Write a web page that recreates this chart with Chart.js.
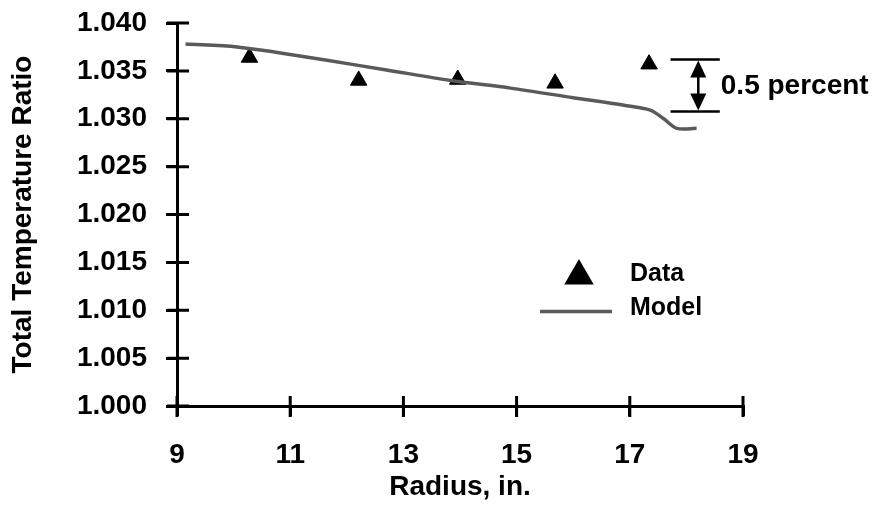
<!DOCTYPE html>
<html>
<head>
<meta charset="utf-8">
<script src="https://cdn.jsdelivr.net/npm/chart.js@4.4.1/dist/chart.umd.min.js"></script>
<style>
  html, body { margin: 0; padding: 0; background: #fff; }
</style>
</head>
<body>
<canvas id="myChart" width="877" height="513"></canvas>
<script>
// measured data (triangles)
const dataRadius = [10.28, 12.21, 13.96, 15.68, 17.34];
const dataRatio = [1.0364, 1.0340, 1.0341, 1.0337, 1.0357];

// model curve
const modelRadius = [9.15, 10.06, 10.8, 11.65, 12.7, 13.83, 14.89, 16.0, 16.9, 17.36, 17.6, 17.83, 18.18];
const modelRatio = [1.0378, 1.0375, 1.0369, 1.0361, 1.0351, 1.0340, 1.0332, 1.0322, 1.0314, 1.0309, 1.0300, 1.0290, 1.0290];

const xTicks = [9, 11, 13, 15, 17, 19];
const yTicks = [1.000, 1.005, 1.010, 1.015, 1.020, 1.025, 1.030, 1.035, 1.040];

// "0.5 percent" bracket
const bracketTop = 1.0362;
const bracketBottom = 1.03075;
const bracketX = [17.72, 18.59];
const bracketArrowX = 18.21;
const bracketLabel = '0.5 percent';

const FONT = '"Liberation Sans", Arial, sans-serif';

function toPoints(xs, ys) {
  return xs.map((x, i) => ({ x: x, y: ys[i] }));
}

// ticks cross the axis line on both sides
const crossTicks = {
  id: 'crossTicks',
  afterDraw(chart) {
    const ctx = chart.ctx;
    const x = chart.scales.x, y = chart.scales.y;
    const area = chart.chartArea;
    ctx.save();
    ctx.strokeStyle = '#000';
    ctx.lineWidth = 3;
    ctx.beginPath();
    yTicks.forEach(v => {
      const py = y.getPixelForValue(v);
      ctx.moveTo(area.left - 10, py);
      ctx.lineTo(area.left + 12, py);
    });
    xTicks.forEach(v => {
      const px = x.getPixelForValue(v);
      ctx.moveTo(px, area.bottom + 11);
      ctx.lineTo(px, area.bottom - 10);
    });
    ctx.stroke();
    ctx.restore();
  }
};

function arrowHead(ctx, x, y, dir) {
  ctx.beginPath();
  ctx.moveTo(x, y);
  ctx.lineTo(x - 8, y + dir * 17);
  ctx.lineTo(x + 8, y + dir * 17);
  ctx.closePath();
  ctx.fill();
}

const notes = {
  id: 'notes',
  afterDatasetsDraw(chart) {
    const ctx = chart.ctx;
    const x = chart.scales.x, y = chart.scales.y;
    ctx.save();
    ctx.strokeStyle = '#000';
    ctx.fillStyle = '#000';
    ctx.lineWidth = 2.5;

    // bracket
    const x0 = x.getPixelForValue(bracketX[0]);
    const x1 = x.getPixelForValue(bracketX[1]);
    const yt = y.getPixelForValue(bracketTop);
    const yb = y.getPixelForValue(bracketBottom);
    const xa = x.getPixelForValue(bracketArrowX);
    ctx.beginPath();
    ctx.moveTo(x0, yt); ctx.lineTo(x1, yt);
    ctx.moveTo(x0, yb); ctx.lineTo(x1, yb);
    ctx.moveTo(xa, yt + 10); ctx.lineTo(xa, yb - 10);
    ctx.stroke();
    arrowHead(ctx, xa, yt + 1, 1);
    arrowHead(ctx, xa, yb - 1, -1);

    ctx.font = 'bold 28px ' + FONT;
    ctx.textBaseline = 'middle';
    ctx.textAlign = 'left';
    ctx.fillText(bracketLabel, x1 + 1, (yt + yb) / 2 + 1);

    // legend
    const area = chart.chartArea;
    const lx = area.left + 402, ly = 276;
    Chart.helpers.drawPoint(ctx, { pointStyle: 'triangle', radius: 14.5, borderWidth: 1 }, lx, ly);
    ctx.fill();
    ctx.font = 'bold 25px ' + FONT;
    ctx.fillText('Data', area.left + 453, 274);
    ctx.strokeStyle = '#5a5a5a';
    ctx.lineWidth = 3.5;
    ctx.beginPath();
    ctx.moveTo(area.left + 363, 311.5);
    ctx.lineTo(area.left + 435, 311.5);
    ctx.stroke();
    ctx.fillText('Model', area.left + 453, 308);
    ctx.restore();
  }
};

const ctx = document.getElementById('myChart').getContext('2d');

new Chart(ctx, {
  type: 'scatter',
  data: {
    datasets: [
      {
        label: 'Model',
        data: toPoints(modelRadius, modelRatio),
        showLine: true,
        borderColor: '#5a5a5a',
        borderWidth: 3.5,
        pointRadius: 0,
        tension: 0.3,
        fill: false
      },
      {
        label: 'Data',
        data: toPoints(dataRadius, dataRatio),
        pointStyle: 'triangle',
        pointRadius: 9.5,
        backgroundColor: '#000',
        borderColor: '#000',
        borderWidth: 1
      }
    ]
  },
  options: {
    responsive: false,
    animation: false,
    devicePixelRatio: 1,
    layout: { padding: { left: 0, top: 23, right: 134, bottom: 0 } },
    plugins: {
      legend: { display: false },
      tooltip: { enabled: false }
    },
    scales: {
      x: {
        type: 'linear',
        min: 9,
        max: 19,
        afterBuildTicks: s => { s.ticks = xTicks.map(v => ({ value: v })); },
        afterFit: s => { s.height = 107; },
        grid: { drawOnChartArea: false, drawTicks: true, tickLength: 10, color: '#000', lineWidth: 3 },
        border: { display: true, color: '#000', width: 3 },
        ticks: {
          color: '#000',
          padding: 22,
          maxRotation: 0,
          font: { family: FONT, size: 28, weight: 'bold' }
        },
        title: {
          display: true,
          text: 'Radius, in.',
          color: '#000',
          padding: { top: 0, bottom: 9 },
          font: { family: FONT, size: 28, weight: 'bold' }
        }
      },
      y: {
        type: 'linear',
        min: 1.0,
        max: 1.04,
        afterBuildTicks: s => { s.ticks = yTicks.map(v => ({ value: v })); },
        afterFit: s => { s.width = 177; s.paddingTop = 0; s.paddingBottom = 0; },
        grid: { drawOnChartArea: false, drawTicks: true, tickLength: 11, color: '#000', lineWidth: 3 },
        border: { display: true, color: '#000', width: 3 },
        ticks: {
          color: '#000',
          padding: 19,
          callback: v => v.toFixed(3),
          font: { family: FONT, size: 28, weight: 'bold' }
        },
        title: {
          display: true,
          text: 'Total Temperature Ratio',
          color: '#000',
          padding: { top: 6, bottom: 0 },
          font: { family: FONT, size: 28, weight: 'bold' }
        }
      }
    }
  },
  plugins: [crossTicks, notes]
});
</script>
</body>
</html>
